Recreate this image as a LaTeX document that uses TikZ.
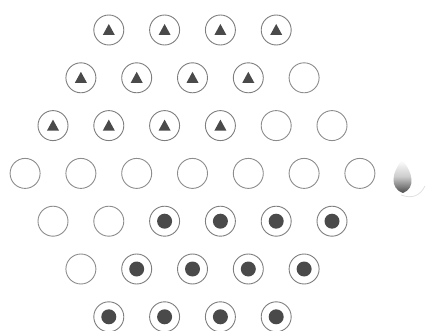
\documentclass[tikz,border=0pt]{standalone}
\usetikzlibrary{calc}
\definecolor{ringgray}{HTML}{8C8C8C}
\definecolor{piecegray}{HTML}{4A4A4A}
\tikzset{
  celle/.style={circle, draw=ringgray, line width=0.9pt, minimum size=30pt, inner sep=0pt},
  cellt/.style={celle, draw=ringgray!90!black, path picture={
      \fill[piecegray] ([yshift=6pt]path picture bounding box.center)
        -- ++(6,11) -- ++(-12,0) -- cycle;}},
  celld/.style={celle, draw=ringgray!90!black, path picture={
      \fill[piecegray] (path picture bounding box.center) circle (7.5pt);}}
}
\begin{document}
\begin{tikzpicture}[x=1pt,y=-1pt]
    \useasboundingbox (0,0) rectangle (439,331);
    % board, row by row
    \foreach \row/\n/\states in {1/4/{t,t,t,t},2/5/{t,t,t,t,e},3/6/{t,t,t,t,e,e},
        4/7/{e,e,e,e,e,e,e},5/6/{e,e,d,d,d,d},6/5/{e,d,d,d,d},7/4/{d,d,d,d}}
      \foreach \s [count=\k] in \states
        \node[cell\s] (h\row-\k) at ({192.5+(\k-(\n+1)/2)*55.8},{30+(\row-1)*47.8}) {};
    % blurred marker beside the middle row
    \coordinate (tip) at (403,193);
    \shade[top color=white, bottom color=black!70, middle color=black!20]
      (tip) .. controls (389,188) and (392,172) .. (402,160)
            .. controls (413,172) and (416,188) .. (tip);
    \draw[black!12, line width=0.8pt] ([shift={(-2,2)}]tip) .. controls (412,199) and (420,196) .. (425,186);
\end{tikzpicture}
\end{document}
